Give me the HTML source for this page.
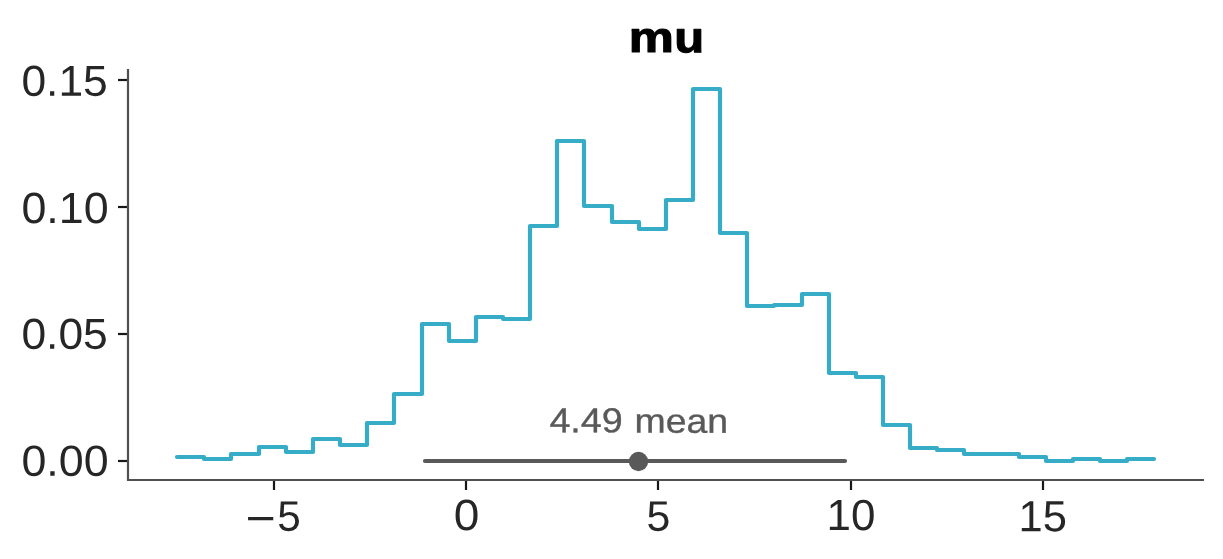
<!DOCTYPE html>
<html><head><meta charset="utf-8"><title>mu</title>
<style>
html,body{margin:0;padding:0;background:#fff;}
body{width:1223px;height:559px;overflow:hidden;font-family:"Liberation Sans",sans-serif;}
svg{display:block;will-change:transform;}
text{font-family:"Liberation Sans",sans-serif;text-rendering:geometricPrecision;}
</style></head><body>
<svg width="1223" height="559" viewBox="0 0 1223 559">
<rect width="1223" height="559" fill="#ffffff"/>
<path d="M177.00 457.00 H204.00 V459.00 H231.00 V454.00 H259.00 V447.00 H286.00 V452.00 H313.00 V439.00 H340.00 V445.00 H367.00 V423.00 H394.00 V394.00 H422.00 V324.00 H449.00 V341.00 H476.00 V317.00 H503.00 V319.00 H530.00 V226.00 H557.00 V141.00 H584.00 V206.00 H612.00 V222.00 H639.00 V229.00 H666.00 V200.00 H693.00 V89.00 H720.00 V233.00 H747.00 V306.00 H774.00 V305.00 H802.00 V294.00 H829.00 V373.00 H856.00 V377.00 H883.00 V425.00 H910.00 V448.00 H937.00 V450.00 H964.00 V454.00 H991.00 V454.00 H1019.00 V457.00 H1046.00 V461.00 H1073.00 V459.00 H1100.00 V461.00 H1127.00 V459.00 H1154.00" fill="none" stroke="#36acc6" stroke-width="4.17" stroke-linejoin="round" stroke-linecap="round"/>
<line x1="425" x2="845" y1="461" y2="461" stroke="#595959" stroke-width="4.17" stroke-linecap="round"/>
<circle cx="638.5" cy="461.5" r="9.7" fill="#595959"/>
<g stroke="#181818" stroke-width="2.2" fill="none">
<line x1="274" x2="274" y1="480" y2="490"/>
<line x1="466" x2="466" y1="480" y2="490"/>
<line x1="658" x2="658" y1="480" y2="490"/>
<line x1="851" x2="851" y1="480" y2="490"/>
<line x1="1043" x2="1043" y1="480" y2="490"/>
<line x1="118" x2="128" y1="80" y2="80"/>
<line x1="118" x2="128" y1="207" y2="207"/>
<line x1="118" x2="128" y1="334" y2="334"/>
<line x1="118" x2="128" y1="461" y2="461"/>
</g>
<path d="M128 69 V480 H1204" fill="none" stroke="#505050" stroke-width="2.2" stroke-linecap="butt" stroke-linejoin="miter"/>
<text transform="translate(628.70 52.10) rotate(0.05) scale(1.1823 1.0000)" font-size="42.865" font-weight="bold" fill="#000000" stroke="#000000" stroke-width="1.1" stroke-linejoin="round" text-anchor="start">m</text>
<text transform="translate(674.30 52.20) rotate(0.05) scale(1.1231 1.0000)" font-size="43.56" font-weight="bold" fill="#000000" stroke="#000000" stroke-width="1.1" stroke-linejoin="round" text-anchor="start">u</text>
<text transform="translate(21.40 95.80) rotate(0.05) scale(1.0281 1.0000)" font-size="43.174" font-weight="normal" fill="#262626" text-anchor="start">0.15</text>
<text transform="translate(21.40 222.95) rotate(0.05) scale(1.0272 1.0000)" font-size="43.628" font-weight="normal" fill="#262626" text-anchor="start">0.10</text>
<text transform="translate(21.40 348.70) rotate(0.05) scale(1.0275 1.0000)" font-size="43.194" font-weight="normal" fill="#262626" text-anchor="start">0.05</text>
<text transform="translate(21.40 475.70) rotate(0.05) scale(1.0344 1.0000)" font-size="43.315" font-weight="normal" fill="#262626" text-anchor="start">0.00</text>
<text transform="translate(245.40 533.50) rotate(0.05) scale(1.1600 1.0000)" font-size="44.7" font-weight="normal" fill="#262626" text-anchor="start">−</text>
<text transform="translate(277.20 530.70) rotate(0.05) scale(0.9913 1.0000)" font-size="42.714" font-weight="normal" fill="#262626" text-anchor="start">5</text>
<text transform="translate(453.70 529.90) rotate(0.05) scale(1.0555 1.0000)" font-size="43.576" font-weight="normal" fill="#262626" text-anchor="start">0</text>
<text transform="translate(646.40 530.70) rotate(0.05) scale(1.0010 1.0000)" font-size="42.717" font-weight="normal" fill="#262626" text-anchor="start">5</text>
<text transform="translate(826.50 530.00) rotate(0.05) scale(1.0104 1.0000)" font-size="43.452" font-weight="normal" fill="#262626" text-anchor="start">10</text>
<text transform="translate(1018.50 531.20) rotate(0.05) scale(0.9985 1.0000)" font-size="43.56" font-weight="normal" fill="#262626" text-anchor="start">15</text>
<text transform="translate(549.40 432.30) rotate(0.05) scale(1.0900 1.0000)" font-size="34.586" font-weight="normal" fill="#595959" stroke="#595959" stroke-width="0.35" stroke-linejoin="round" text-anchor="start">4.49</text>
<text transform="translate(634.60 432.60) rotate(0.05) scale(1.0961 1.0000)" font-size="34.139" font-weight="normal" fill="#595959" stroke="#595959" stroke-width="0.35" stroke-linejoin="round" text-anchor="start">mean</text>
</svg>
</body></html>
